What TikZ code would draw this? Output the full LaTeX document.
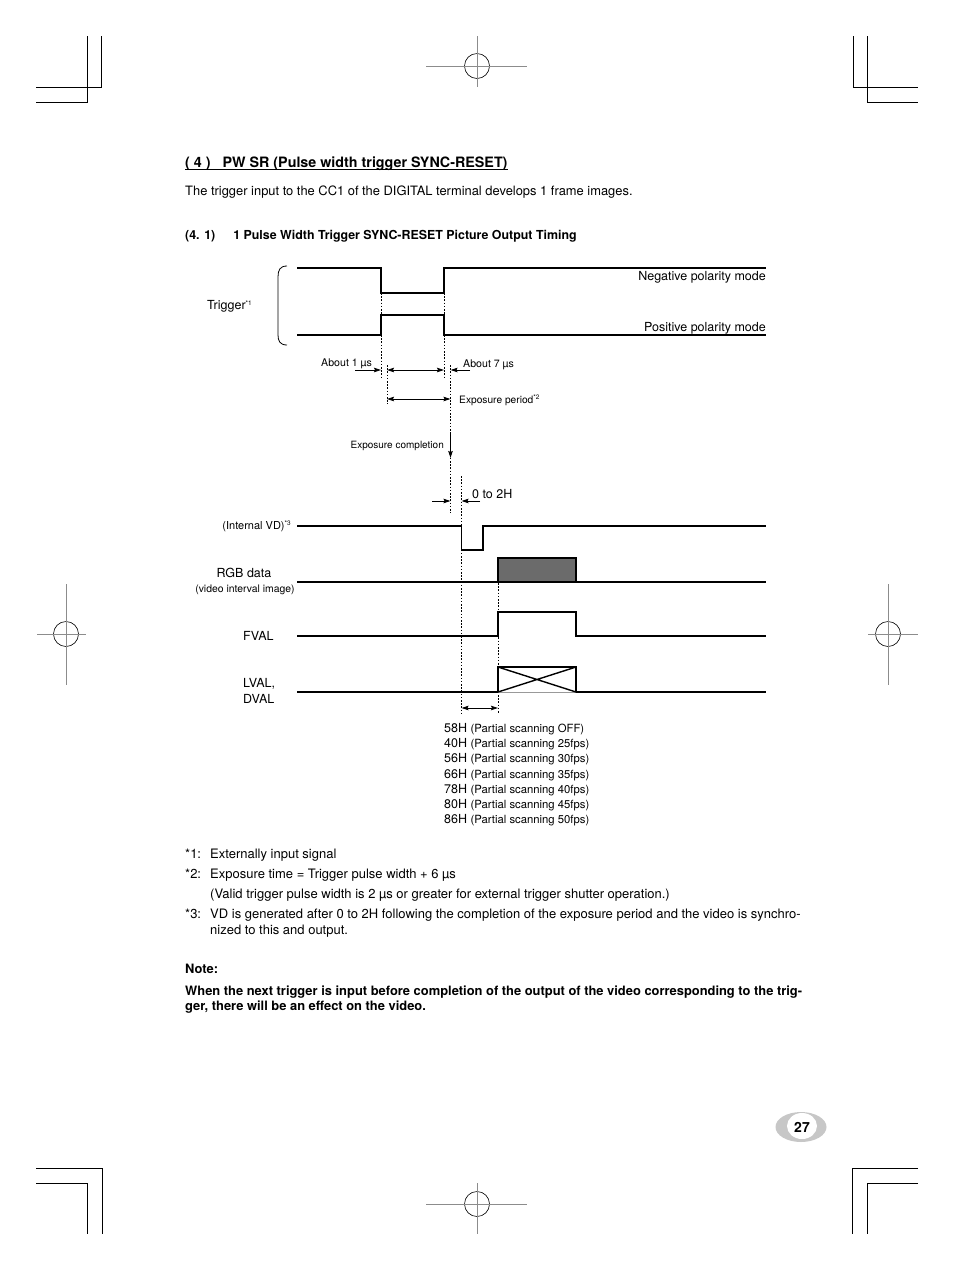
\documentclass[tikz,border=0pt]{standalone}
\usepackage{fontspec}
\setmainfont{TeX Gyre Heros}
\usepackage{tikz}
\usetikzlibrary{arrows.meta}

\newcommand\supmark[1]{{\fontsize{6.5}{7}\selectfont\raisebox{4pt}{#1}}}

\begin{document}
\begin{tikzpicture}[
  x=1pt, y=-1pt,
  txt/.style={inner sep=0pt, anchor=base west, font=\fontsize{12.5}{14}\selectfont},
  txtr/.style={txt, anchor=base east},
  tiny/.style={inner sep=0pt, anchor=base west, font=\fontsize{10.2}{12}\selectfont},
  body/.style={inner sep=0pt, anchor=base west, font=\fontsize{12.9}{15}\selectfont},
  foot/.style={inner sep=0pt, anchor=base west, font=\fontsize{13}{15}\selectfont},
  bold/.style={inner sep=0pt, anchor=base west, font=\bfseries\fontsize{12.4}{15}\selectfont},
  sig/.style={line width=1.9pt, line join=miter},
  guide/.style={line width=0.8pt, dash pattern=on 1.6pt off 1.6pt},
  arr/.style={-{Stealth[length=7pt,width=4.5pt,inset=1pt]}, line width=0.8pt},
  darr/.style={{Stealth[length=7pt,width=4.5pt,inset=1pt]}-{Stealth[length=7pt,width=4.5pt,inset=1pt]}, line width=0.8pt},
  crop/.style={line width=0.8pt},
  reg/.style={line width=0.6pt, black!45}
]
  \useasboundingbox (0,0) rectangle (954,1270);

  % crop marks
  \draw[crop] (101,36) -- (101,87) -- (36,87);
  \draw[crop] (87,36) -- (87,102) -- (36,102);
  \draw[crop] (853,36) -- (853,87) -- (918,87);
  \draw[crop] (867,36) -- (867,102) -- (918,102);
  \draw[crop] (36,1168) -- (102,1168) -- (102,1234);
  \draw[crop] (36,1183) -- (87,1183) -- (87,1234);
  \draw[crop] (918,1168) -- (852,1168) -- (852,1234);
  \draw[crop] (918,1183) -- (867,1183) -- (867,1234);

  % register marks
  \foreach \cx/\cy in {477/66, 477/1204, 66/634, 888/634} {
    \draw[line width=0.6pt] (\cx,\cy) circle (12.5);
  }
  \draw[reg] (426,66) -- (527,66) (477,36) -- (477,87);
  \draw[reg] (426,1204) -- (527,1204) (477,1183) -- (477,1234);
  \draw[reg] (37,634) -- (86,634) (66,584) -- (66,685);
  \draw[reg] (868,634) -- (918,634) (888,584) -- (888,685);

  % headings
  \node[bold, font=\bfseries\fontsize{14.3}{16}\selectfont] (hd) at (185,167.3)
    {( 4 )\hspace{12pt}PW SR (Pulse width trigger SYNC-RESET)};
  \draw[line width=1pt] ([yshift=-2pt]hd.base west) -- ([yshift=-2pt]hd.base east);
  \node[body] (intro) at (185,195)
    {The trigger input to the CC1 of the DIGITAL terminal develops 1 frame images.};
  \node[bold] (sub) at (185,239.5)
    {(4. 1)\hspace{18pt}1 Pulse Width Trigger SYNC-RESET Picture Output Timing};

  % trigger
  \draw[line width=0.8pt] (287,266) .. controls (280,266) and (278,270) .. (278,277)
    -- (278,335) .. controls (278,341) and (280,345) .. (287,345);
  \node[txt] (trig) at (207,309.5) {Trigger\supmark{*1}};
  \draw[sig] (297,268) -- (381,268) -- (381,293) -- (444,293) -- (444,268) -- (766,268);
  \draw[sig] (297,335) -- (381,335) -- (381,315) -- (444,315) -- (444,335) -- (766,335);
  \node[txtr] (neg) at (766,280.5) {Negative polarity mode};
  \node[txtr] (pos) at (766,331.5) {Positive polarity mode};

  % guides
  \draw[guide] (381,293) -- (381,315) (444,293) -- (444,315);
  \draw[guide] (381,335) -- (381,378) (444,335) -- (444,378);
  \draw[guide] (387,365) -- (387,404);
  \draw[guide] (450.5,365) -- (450.5,513);
  \draw[guide] (461.5,476) -- (461.5,714);
  \draw[guide] (498,583) -- (498,714);

  % timing arrows
  \coordinate (a1s) at (355,370);   \coordinate (a1e) at (381,370);
  \coordinate (a2s) at (387,370);   \coordinate (a2e) at (444,370);
  \coordinate (a7s) at (470,370);   \coordinate (a7e) at (450.5,370);
  \coordinate (eps) at (387,399);   \coordinate (epe) at (450.5,399);
  \coordinate (ecs) at (450.5,433); \coordinate (ece) at (450.5,458);
  \coordinate (h0s) at (432,501);   \coordinate (h0e) at (450.5,501);
  \coordinate (h2s) at (480,501);   \coordinate (h2e) at (461.5,501);
  \coordinate (lds) at (461.5,708); \coordinate (lde) at (498,708);
  \draw[arr] (a1s) -- (a1e);
  \draw[darr] (a2s) -- (a2e);
  \draw[arr] (a7s) -- (a7e);
  \draw[darr] (eps) -- (epe);
  \draw[arr] (ecs) -- (ece);
  \draw[arr] (h0s) -- (h0e);
  \draw[arr] (h2s) -- (h2e);
  \draw[darr] (lds) -- (lde);

  \node[tiny, font=\fontsize{10.6}{12}\selectfont] (ab1) at (321,366.5) {About 1 µs};
  \node[tiny, font=\fontsize{10.6}{12}\selectfont] (ab7) at (463,367) {About 7 µs};
  \node[tiny] (expp) at (459,403.5) {Exposure period\supmark{*2}};
  \node[tiny, anchor=base east, font=\fontsize{10}{12}\selectfont] (expc) at (444,448.5) {Exposure completion};
  \node[txt] (zero) at (472,498) {0 to 2H};

  % output signals
  \node[tiny, anchor=base east, font=\fontsize{11}{12}\selectfont] (vd) at (291,529.5) {(Internal VD)\supmark{*3}};
  \draw[sig, line width=1.4pt] (297,526) -- (461.5,526) -- (461.5,550) -- (483,550) -- (483,526) -- (766,526);

  \node[txt, anchor=base] (rgb) at (244,577.5) {RGB data};
  \node[tiny, anchor=base, font=\fontsize{10.4}{11}\selectfont] (rgbs) at (245,592.5) {(video interval image)};
  \draw[sig] (297,582) -- (766,582);
  \draw[sig, fill=black!58] (498,558) rectangle (576,582);

  \node[txt] (fval) at (243,640.5) {FVAL};
  \draw[sig] (297,636) -- (498,636) -- (498,612) -- (576,612) -- (576,636) -- (766,636);

  \node[txt] (lval) at (243,687.5) {LVAL,};
  \node[txt] (dval) at (243,703.5) {DVAL};
  \draw[sig] (297,692) -- (498,692) (576,692) -- (766,692);
  \draw[sig] (498,692) -- (498,667) -- (576,667) -- (576,692);
  \draw[line width=0.8pt, black!40] (498,692) -- (576,692);
  \draw[line width=1.4pt] (498,667) -- (576,692) (498,692) -- (576,667);

  % partial scanning list
  \foreach \h/\m [count=\i] in {58H/OFF, 40H/25fps, 56H/30fps, 66H/35fps, 78H/40fps, 80H/45fps, 86H/50fps}
    \node[txt] (sc\i) at (444,{732.5+15.17*(\i-1)})
      {\h\ {\fontsize{11.3}{13}\selectfont(Partial scanning \m)}};

  % footnotes
  \node[foot] (f1) at (185,858.5) {*1:};
  \node[foot] (f1t) at (210,858.5) {Externally input signal};
  \node[foot] (f2) at (185,878.5) {*2:};
  \node[foot] (f2t) at (210,878.5) {Exposure time = Trigger pulse width + 6 µs};
  \node[foot] (f2u) at (210,898.5) {(Valid trigger pulse width is 2 µs or greater for external trigger shutter operation.)};
  \node[foot] (f3) at (185,918.5) {*3:};
  \node[foot] (f3t) at (210,918.5) {VD is generated after 0 to 2H following the completion of the exposure period and the video is synchro-};
  \node[foot] (f3u) at (210,934) {nized to this and output.};

  \node[bold, font=\bfseries\fontsize{12.9}{15}\selectfont] (note) at (185,973.5) {Note:};
  \node[bold, font=\bfseries\fontsize{12.9}{15}\selectfont] (nt1) at (185,995.5) {When the next trigger is input before completion of the output of the video corresponding to the trig-};
  \node[bold, font=\bfseries\fontsize{12.9}{15}\selectfont] (nt2) at (185,1010.5) {ger, there will be an effect on the video.};

  % page number
  \fill[black!22] (801,1127) ellipse (25.5 and 15);
  \fill[white] (802,1126) ellipse (15 and 13);
  \node[font=\bfseries\fontsize{14}{16}\selectfont, inner sep=0pt] (pg) at (802,1127) {27};
\end{tikzpicture}
\end{document}
